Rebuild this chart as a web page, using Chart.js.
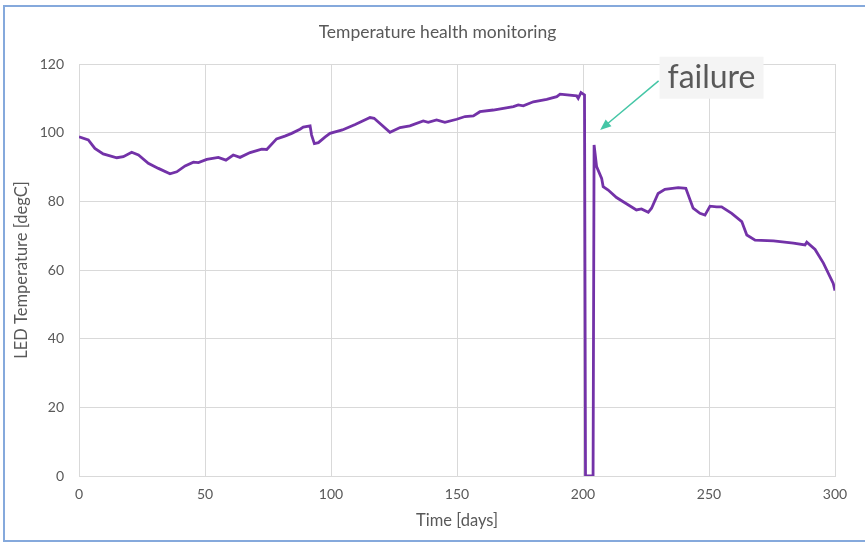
<!DOCTYPE html>
<html>
<head>
<meta charset="utf-8">
<script src="https://cdn.jsdelivr.net/npm/chart.js@4"></script>
<style>
  html, body { margin: 0; padding: 0; background: #fff; }
  #wrap { width: 865px; height: 545px; }
</style>
</head>
<body>
<div id="wrap"><canvas id="tempChart" width="865" height="545"></canvas></div>
<script>
// time axis (days) and LED temperature readings
const days = [
  0, 3.7, 6.3, 9.6, 15, 17.6, 20.9, 23.6, 27.5, 31.5, 36.1, 38.8, 42.1, 45.4, 47.4,
  50.7, 55.3, 58.3, 61.2, 63.9, 67.9, 72.5, 74.5, 78.4, 81.7, 84.4, 87.7, 89, 91.7,
  92.3, 93.4, 95, 97.6, 99.6, 104.5, 109.6, 115.5, 117.1, 123.4, 127.4, 131.3, 136.6,
  138.6, 141.9, 145.2, 149.9, 153.2, 156.5, 159.1, 164.4, 172.4, 174.3, 176.3, 180.3,
  185.6, 189.6, 190.9, 197.5, 198.1, 199.2, 200.6, 201, 204, 204.4, 205.4, 207.4,
  208, 210, 213.3, 216.6, 221.2, 223.2, 225.9, 227.2, 229.8, 232.5, 237.8, 240.8,
  243.7, 246.4, 248.4, 250.4, 253, 255, 259, 263, 265, 268.3, 275.6, 283.5, 288.1,
  288.8, 292.1, 295.4, 299.3, 300
];
const temps = [
  98.8, 97.9, 95.4, 93.8, 92.7, 93, 94.3, 93.5, 91.1, 89.6, 88, 88.6, 90.3, 91.4, 91.3,
  92.2, 92.8, 92, 93.5, 92.8, 94.2, 95.2, 95.1, 98.2, 99, 99.8, 101, 101.6, 102,
  99.3, 96.8, 97.1, 98.7, 99.8, 100.8, 102.4, 104.4, 104.2, 100.1, 101.5, 102, 103.4,
  103, 103.7, 103, 103.9, 104.7, 104.9, 106.1, 106.6, 107.6, 108.1, 107.8, 109,
  109.7, 110.5, 111.2, 110.7, 110, 111.7, 111, 0, 0, 96.4, 90.1, 86.7,
  84.3, 83.3, 81.1, 79.6, 77.5, 77.8, 76.8, 78, 82.3, 83.5, 84, 83.8,
  78, 76.5, 76, 78.6, 78.4, 78.4, 76.5, 74.1, 70.2, 68.7, 68.5, 67.8, 67.3,
  68.1, 66, 62, 56.1, 54
];
const xTicks = [0, 50, 100, 150, 200, 250, 300];
const yTicks = [0, 20, 40, 60, 80, 100, 120];
const chartTitle = 'Temperature health monitoring';

const textGrey = '#595959';
const gridGrey = '#d9d9d9';
const fontFamily = 'Lato, "Open Sans", sans-serif';

// annotation: "failure" label with arrow, placed in data coordinates
const failureNote = { text: 'failure', x: 251, y: 116, tailX: 230, tailY: 115.1, tipX: 206.8, tipY: 100.8 };

const frameAndNote = {
  id: 'frameAndNote',
  afterDatasetsDraw(chart) {
    const c = chart.ctx;
    const xs = chart.scales.x, ys = chart.scales.y;
    c.save();
    // chart title (centred on the whole picture, as in the original)
    c.font = '17.5px ' + fontFamily;
    c.fillStyle = textGrey;
    c.textAlign = 'center';
    c.textBaseline = 'middle';
    c.fillText(chartTitle, 437.5, 32);
    // label box
    const cx = xs.getPixelForValue(failureNote.x), cy = ys.getPixelForValue(failureNote.y);
    c.font = '32px ' + fontFamily;
    const w = c.measureText(failureNote.text).width;
    c.fillStyle = '#f4f4f4';
    c.fillRect(cx - w / 2 - 8, cy - 21, w + 16, 42);
    c.fillStyle = textGrey;
    c.fillText(failureNote.text, cx, cy);
    // arrow
    const x1 = xs.getPixelForValue(failureNote.tailX), y1 = ys.getPixelForValue(failureNote.tailY);
    const x2 = xs.getPixelForValue(failureNote.tipX), y2 = ys.getPixelForValue(failureNote.tipY);
    const ang = Math.atan2(y2 - y1, x2 - x1);
    c.strokeStyle = '#45c6a6';
    c.fillStyle = '#45c6a6';
    c.lineWidth = 1.5;
    c.beginPath();
    c.moveTo(x1, y1);
    c.lineTo(x2 - 8 * Math.cos(ang), y2 - 8 * Math.sin(ang));
    c.stroke();
    c.beginPath();
    c.moveTo(x2, y2);
    c.lineTo(x2 - 11 * Math.cos(ang) + 4.5 * Math.sin(ang), y2 - 11 * Math.sin(ang) - 4.5 * Math.cos(ang));
    c.lineTo(x2 - 11 * Math.cos(ang) - 4.5 * Math.sin(ang), y2 - 11 * Math.sin(ang) + 4.5 * Math.cos(ang));
    c.closePath();
    c.fill();
    // outer frame (right edge is cut off in the original)
    c.strokeStyle = '#85a9dc';
    c.lineWidth = 2;
    c.beginPath();
    c.moveTo(865, 6);
    c.lineTo(4, 6);
    c.lineTo(4, 541);
    c.lineTo(865, 541);
    c.stroke();
    c.restore();
  }
};

const ctx = document.getElementById('tempChart').getContext('2d');
const chart = new Chart(ctx, {
  type: 'line',
  data: {
    datasets: [{
      label: 'LED Temperature',
      data: days.map((d, i) => ({ x: d, y: temps[i] })),
      borderColor: '#7332a8',
      borderWidth: 2.8,
      pointRadius: 0,
      tension: 0,
      fill: false
    }]
  },
  options: {
    responsive: false,
    animation: false,
    layout: { padding: { left: 10, right: 30, top: 64, bottom: 11 } },
    plugins: {
      legend: { display: false },
      tooltip: { enabled: false },
      title: { display: false }
    },
    scales: {
      x: {
        type: 'linear',
        min: 0,
        max: 300,
        afterBuildTicks: s => { s.ticks = xTicks.map(v => ({ value: v })); },
        afterFit: s => { s.height = 58; },
        grid: { color: gridGrey, drawTicks: false },
        border: { color: gridGrey },
        ticks: { color: textGrey, font: { family: fontFamily, size: 14 }, padding: 10, maxRotation: 0 },
        title: {
          display: true,
          text: 'Time [days]',
          color: textGrey,
          font: { family: fontFamily, size: 16.5 },
          padding: { top: 4, bottom: 3 }
        }
      },
      y: {
        min: 0,
        max: 120,
        afterBuildTicks: s => { s.ticks = yTicks.map(v => ({ value: v })); },
        afterFit: s => { s.width = 69; },
        grid: { color: gridGrey, drawTicks: false },
        border: { color: gridGrey },
        ticks: { color: textGrey, font: { family: fontFamily, size: 14 }, padding: 15 },
        title: {
          display: true,
          text: 'LED Temperature [degC]',
          color: textGrey,
          font: { family: fontFamily, size: 16.5 },
          padding: { top: 2, bottom: 2 }
        }
      }
    }
  },
  plugins: [frameAndNote]
});
</script>
</body>
</html>
